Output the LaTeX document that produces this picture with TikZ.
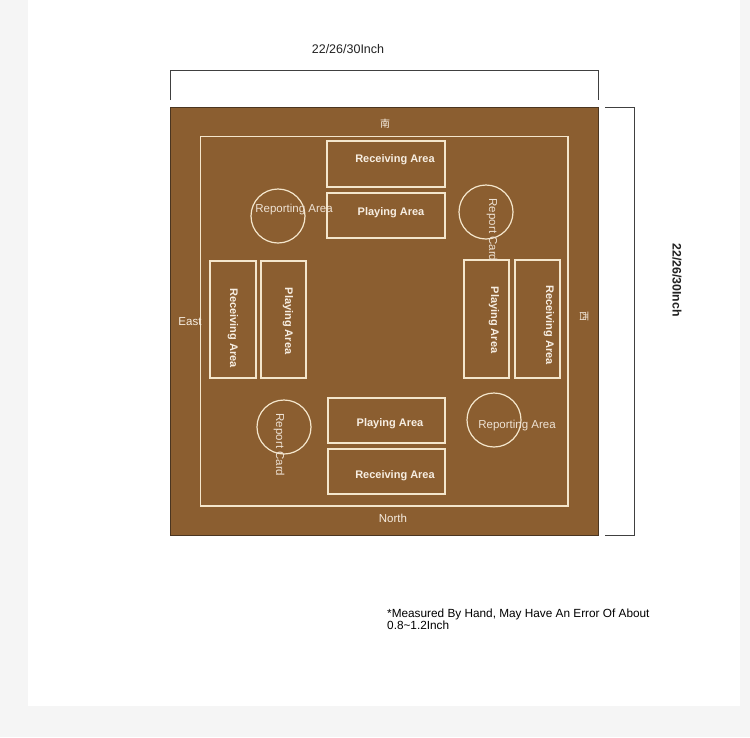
\documentclass[tikz,border=0pt]{standalone}
\usepackage{fontspec}
\setmainfont{Liberation Sans}
\newfontfamily\cjk{Noto Sans CJK SC}
\definecolor{board}{HTML}{8B5E30}
\definecolor{boardedge}{HTML}{4A3520}
\definecolor{cream}{HTML}{F4E6CC}
\definecolor{creamtxt}{HTML}{F7EEE2}
\definecolor{pagebg}{HTML}{F5F5F5}
\definecolor{dimtxt}{HTML}{222222}
\tikzset{
  area/.style={draw=cream, line width=1.3pt, inner sep=0pt},
  circ/.style={draw=cream, line width=1.2pt, circle, inner sep=0pt, minimum size=54pt},
  boxlbl/.style={text=creamtxt, font=\fontsize{11}{13}\selectfont\bfseries, inner sep=0pt},
  circlbl/.style={text=creamtxt!92!board, font=\fontsize{11.5}{13}\selectfont, inner sep=0pt},
  dirlbl/.style={text=creamtxt, font=\fontsize{11.5}{13}\selectfont, inner sep=0pt},
  dimline/.style={draw=black!75, line width=0.9pt},
}
\begin{document}
\begin{tikzpicture}[x=1pt,y=-1pt]
\useasboundingbox (0,0) rectangle (750,737);
\fill[pagebg] (0,0) rectangle (750,737);
\fill[white] (28,0) rectangle (740,706);
% board
\draw[fill=board, draw=boardedge, line width=0.8pt] (170,107) rectangle (598,535);
\draw[cream, line width=1.3pt] (200.5,136.5) rectangle (568,506);
% top dimension
\coordinate (tl) at (170,100);
\coordinate (tlt) at (170,70);
\coordinate (trt) at (598,70);
\coordinate (tr) at (598,100);
\draw[dimline] (tl) -- (tlt) -- (trt) -- (tr);
\node[font=\fontsize{12.5}{14}\selectfont, text=dimtxt] (topdim) at (348,49) {22/26/30Inch};
% right dimension
\coordinate (rt) at (605,107);
\coordinate (rtr) at (634,107);
\coordinate (rbr) at (634,535);
\coordinate (rb) at (605,535);
\draw[dimline] (rt) -- (rtr) -- (rbr) -- (rb);
\node[font=\fontsize{12.3}{14}\selectfont\bfseries, text=dimtxt, rotate=-90] (rightdim) at (677,280) {22/26/30Inch};
% top boxes
\node[area, minimum width=118pt, minimum height=46pt] (recT) at (386,164) {};
\node[boxlbl] (recTl) at (395,160) {Receiving Area};
\node[area, minimum width=118pt, minimum height=45pt] (playT) at (386,215.5) {};
\node[boxlbl] (playTl) at (391,213) {Playing Area};
% bottom boxes
\node[area, minimum width=117pt, minimum height=45pt] (playB) at (386.5,420.5) {};
\node[boxlbl] (playBl) at (390,424) {Playing Area};
\node[area, minimum width=117pt, minimum height=45pt] (recB) at (386.5,471.5) {};
\node[boxlbl] (recBl) at (395,476) {Receiving Area};
% left boxes
\node[area, minimum width=46pt, minimum height=117pt] (recL) at (233,319.5) {};
\node[boxlbl, rotate=-90] (recLl) at (233,328) {Receiving Area};
\node[area, minimum width=45pt, minimum height=117pt] (playL) at (283.5,319.5) {};
\node[boxlbl, rotate=-90] (playLl) at (288,321) {Playing Area};
% right boxes
\node[area, minimum width=45pt, minimum height=118pt] (playR) at (486.5,319) {};
\node[boxlbl, rotate=-90] (playRl) at (494,320) {Playing Area};
\node[area, minimum width=45pt, minimum height=118pt] (recR) at (537.5,319) {};
\node[boxlbl, rotate=-90] (recRl) at (549,325) {Receiving Area};
% circles
\node[circ] (cTL) at (278,216) {};
\node[circlbl] (cTLl) at (294,210) {Reporting Area};
\node[circ] (cTR) at (486,212) {};
\node[circlbl, rotate=-90] (cTRl) at (492,230) {Report Card};
\node[circ] (cBL) at (284,427) {};
\node[circlbl, rotate=-90] (cBLl) at (279,445) {Report Card};
\node[circ] (cBR) at (494,420) {};
\node[circlbl] (cBRl) at (517,426) {Reporting Area};
% directions
\node[dirlbl] (east) at (190,322) {East};
\node[dirlbl] (north) at (393,518) {North};
\node[dirlbl, font=\cjk\fontsize{10}{12}\selectfont] (south) at (385,124) {南};
\node[dirlbl, font=\cjk\fontsize{10}{12}\selectfont, rotate=-90] (west) at (584,316) {西};
% note
\node[anchor=north west, align=left, inner sep=0pt, text=black, font=\fontsize{11.8}{12}\selectfont] (note) at (387,609) {*Measured By Hand, May Have An Error Of About\\0.8\textasciitilde1.2Inch};
\end{tikzpicture}
\end{document}
